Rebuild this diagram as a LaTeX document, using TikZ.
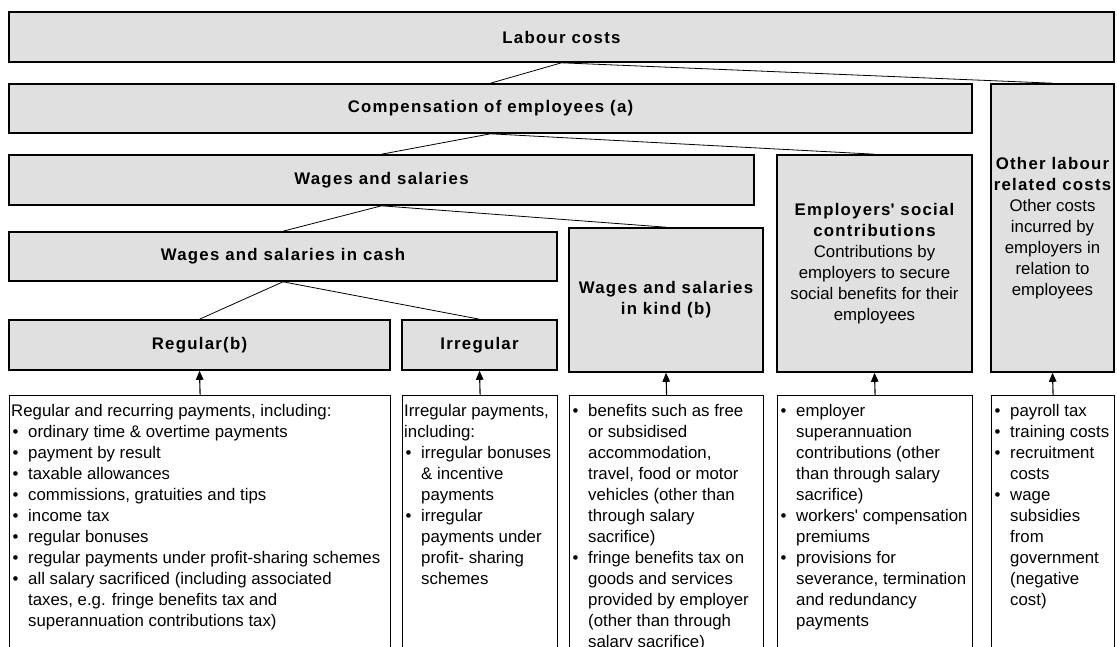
\documentclass[tikz,border=0pt]{standalone}
\usepackage{fontspec}
\setmainfont{Liberation Sans}
\newfontfamily\headfont[LetterSpace=7.5]{Liberation Sans}
\usetikzlibrary{arrows.meta}
\definecolor{boxfill}{RGB}{224,224,224}
\newcommand\bodysize{\fontsize{16.8}{21}\selectfont}
\newcommand\hb[1]{{\headfont\bfseries #1}}
\newcommand\bul{\makebox[17pt][l]{\hspace{1.5pt}\textbullet}}
\newcommand\ind{\hspace*{17pt}}
\newcommand\q{\textquotesingle}
\begin{document}
\begin{tikzpicture}[x=1pt,y=-1pt,
  hbox/.style={draw=black, line width=1.6pt, fill=boxfill, inner sep=1pt, align=center, font=\bodysize},
  lbox/.style={draw=black, line width=1.2pt, fill=white, inner sep=0pt, anchor=north west, minimum height=320pt},
  conn/.style={line width=0.8pt},
  up/.style={line width=1.1pt, -{Triangle[length=9pt,width=7.5pt]}},
  ltext/.style={anchor=base west, inner sep=0pt}]
\useasboundingbox (0,0) rectangle (1117,646);
\clip (0,0) rectangle (1117,646);
% header boxes
\node[hbox, minimum width=1105pt, minimum height=50pt] (labour) at (561.5,37) {\hb{Labour costs}};
\node[hbox, minimum width=963pt, minimum height=49pt] (comp) at (490.5,108.5) {\hb{Compensation of employees (a)}};
\node[hbox, minimum width=123pt, minimum height=288pt] (other) at (1052.5,228) {\hb{Other labour}\\\hb{related costs}\\Other costs\\incurred by\\employers in\\relation to\\employees};
\node[hbox, minimum width=745pt, minimum height=50pt] (wages) at (381.5,180) {\hb{Wages and salaries}};
\node[hbox, minimum width=195pt, minimum height=217pt] (empl) at (874.5,263.5) {\hb{Employers\q{} social}\\\hb{contributions}\\Contributions by\\employers to secure\\social benefits for their\\employees};
\node[hbox, minimum width=548pt, minimum height=49pt] (cash) at (283,256.5) {\hb{Wages and salaries in cash}};
\node[hbox, minimum width=194pt, minimum height=144pt] (kind) at (666,300) {\hb{Wages and salaries}\\\hb{in kind (b)}};
\node[hbox, minimum width=381pt, minimum height=50pt] (reg) at (199.5,345) {\hb{Regular(b)}};
\node[hbox, minimum width=155pt, minimum height=50pt] (irr) at (479.5,345) {\hb{Irregular}};
% connectors
\draw[conn] (comp.north) -- (labour.south) -- (other.north);
\draw[conn] (wages.north) -- (comp.south) -- (empl.north);
\draw[conn] (cash.north) -- (wages.south) -- (kind.north);
\draw[conn] (reg.north) -- (cash.south) -- (irr.north);
% lower boxes
\node[lbox, minimum width=381pt] (regT) at (9,395) {};
\node[lbox, minimum width=155pt] (irrT) at (402,395) {};
\node[lbox, minimum width=194pt] (kindT) at (569,395) {};
\node[lbox, minimum width=195pt] (emplT) at (777,395) {};
\node[lbox, minimum width=123pt] (otherT) at (991,395) {};
\draw[up] (regT.north) -- (reg.south);
\draw[up] (irrT.north) -- (irr.south);
\draw[up] (kindT.north) -- (kind.south);
\draw[up] (emplT.north) -- (empl.south);
\draw[up] (otherT.north) -- (other.south);
% lower texts
\node[ltext] (regX) at (11,416) {\parbox[t]{378pt}{\bodysize\raggedright
Regular and recurring payments, including:\\
\bul ordinary time \& overtime payments\\
\bul payment by result\\
\bul taxable allowances\\
\bul commissions, gratuities and tips\\
\bul income tax\\
\bul regular bonuses\\
\bul regular payments under profit-sharing schemes\\
\bul all salary sacrificed (including associated\\
\ind taxes, e.g. fringe benefits tax and\\
\ind superannuation contributions tax)}};
\node[ltext] (irrX) at (404,416) {\parbox[t]{152pt}{\bodysize\raggedright
Irregular payments,\\
including:\\
\bul irregular bonuses\\
\ind \& incentive\\
\ind payments\\
\bul irregular\\
\ind payments under\\
\ind profit- sharing\\
\ind schemes}};
\node[ltext] (kindX) at (571,416) {\parbox[t]{191pt}{\bodysize\raggedright
\bul benefits such as free\\
\ind or subsidised\\
\ind accommodation,\\
\ind travel, food or motor\\
\ind vehicles (other than\\
\ind through salary\\
\ind sacrifice)\\
\bul fringe benefits tax on\\
\ind goods and services\\
\ind provided by employer\\
\ind (other than through\\
\ind salary sacrifice)}};
\node[ltext] (emplX) at (779,416) {\parbox[t]{192pt}{\bodysize\raggedright
\bul employer\\
\ind superannuation\\
\ind contributions (other\\
\ind than through salary\\
\ind sacrifice)\\
\bul workers\q{} compensation\\
\ind premiums\\
\bul provisions for\\
\ind severance, termination\\
\ind and redundancy\\
\ind payments}};
\node[ltext] (otherX) at (993,416) {\parbox[t]{120pt}{\bodysize\raggedright
\bul payroll tax\\
\bul training costs\\
\bul recruitment\\
\ind costs\\
\bul wage\\
\ind subsidies\\
\ind from\\
\ind government\\
\ind (negative\\
\ind cost)}};
\end{tikzpicture}
\end{document}
